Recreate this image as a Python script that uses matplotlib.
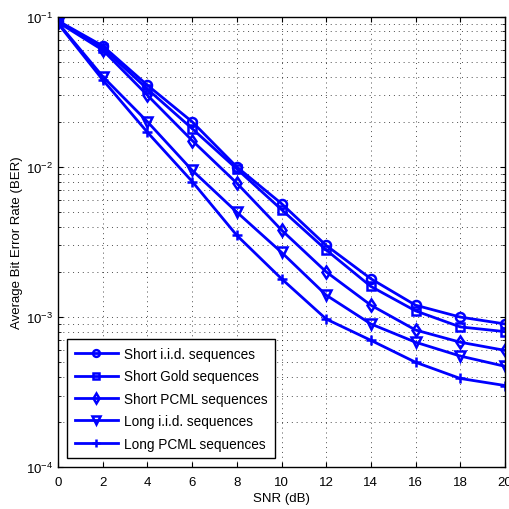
import numpy as np
import matplotlib
matplotlib.use("Agg")
import matplotlib.pyplot as plt
from matplotlib.ticker import LogLocator, NullFormatter

plt.rcParams['font.family'] = ['Liberation Sans', 'DejaVu Sans']

snr = [0, 2, 4, 6, 8, 10, 12, 14, 16, 18, 20]

short_iid = [0.094, 0.064, 0.035, 0.020, 0.0100, 0.0057, 0.0030, 0.0018, 0.0012, 0.00100, 0.00090]
short_gold = [0.093, 0.062, 0.033, 0.018, 0.0097, 0.0052, 0.0028, 0.0016, 0.0011, 0.00086, 0.00080]
short_pcml = [0.092, 0.060, 0.030, 0.015, 0.0078, 0.0038, 0.0020, 0.0012, 0.00082, 0.00068, 0.00060]
long_iid = [0.091, 0.040, 0.020, 0.0095, 0.0050, 0.0027, 0.0014, 0.00090, 0.00068, 0.00055, 0.00047]
long_pcml = [0.090, 0.038, 0.017, 0.0080, 0.0035, 0.0018, 0.00097, 0.00070, 0.00050, 0.00039, 0.00035]

labels = ["Short i.i.d. sequences", "Short Gold sequences", "Short PCML sequences",
          "Long i.i.d. sequences", "Long PCML sequences"]
markers = ['o', 's', 'd', 'v', '+']
msizes = [6.5, 6, 6.5, 7, 7.5]

fig = plt.figure(figsize=(5.1, 5.1), dpi=100)
ax = fig.add_axes([0.114, 0.082, 0.876, 0.883])

series = [short_iid, short_gold, short_pcml, long_iid, long_pcml]
for ys, m, ms, lab in zip(series, markers, msizes, labels):
    ax.semilogy(snr, ys, color='#0000ff', linewidth=2, marker=m, markersize=ms,
                markerfacecolor='none', markeredgewidth=1.8, label=lab)

ax.set_xlim(0, 20)
ax.set_ylim(1e-4, 1e-1)
ax.set_xticks(snr)
ax.yaxis.set_major_locator(LogLocator(base=10, numticks=10))
ax.yaxis.set_minor_locator(LogLocator(base=10, subs=np.arange(2, 10), numticks=10))
ax.yaxis.set_minor_formatter(NullFormatter())

# matlab style sparse dotted grid
ax.grid(True, which='major', linestyle=(0, (1, 4)), color='k', linewidth=0.7, alpha=0.7)
ax.grid(True, which='minor', axis='y', linestyle=(0, (1, 4)), color='k', linewidth=0.7, alpha=0.7)
ax.tick_params(direction='in', which='both', top=True, right=True, labelsize=9.5)
ax.tick_params(axis='x', pad=6)
for s in ax.spines.values():
    s.set_linewidth(1.0)

ax.set_xlabel("SNR (dB)", fontsize=9.5, labelpad=3)
ax.set_ylabel("Average Bit Error Rate (BER)", fontsize=9.5, labelpad=2)

leg = ax.legend(loc='lower left', bbox_to_anchor=(0.005, 0.005), fontsize=9.8,
                fancybox=False, edgecolor='k', framealpha=1, handlelength=3.2,
                handletextpad=0.4, labelspacing=0.62, borderpad=0.55, markerscale=0.75)
leg.get_frame().set_linewidth(1.0)

fig.savefig("out.png", dpi=100)
